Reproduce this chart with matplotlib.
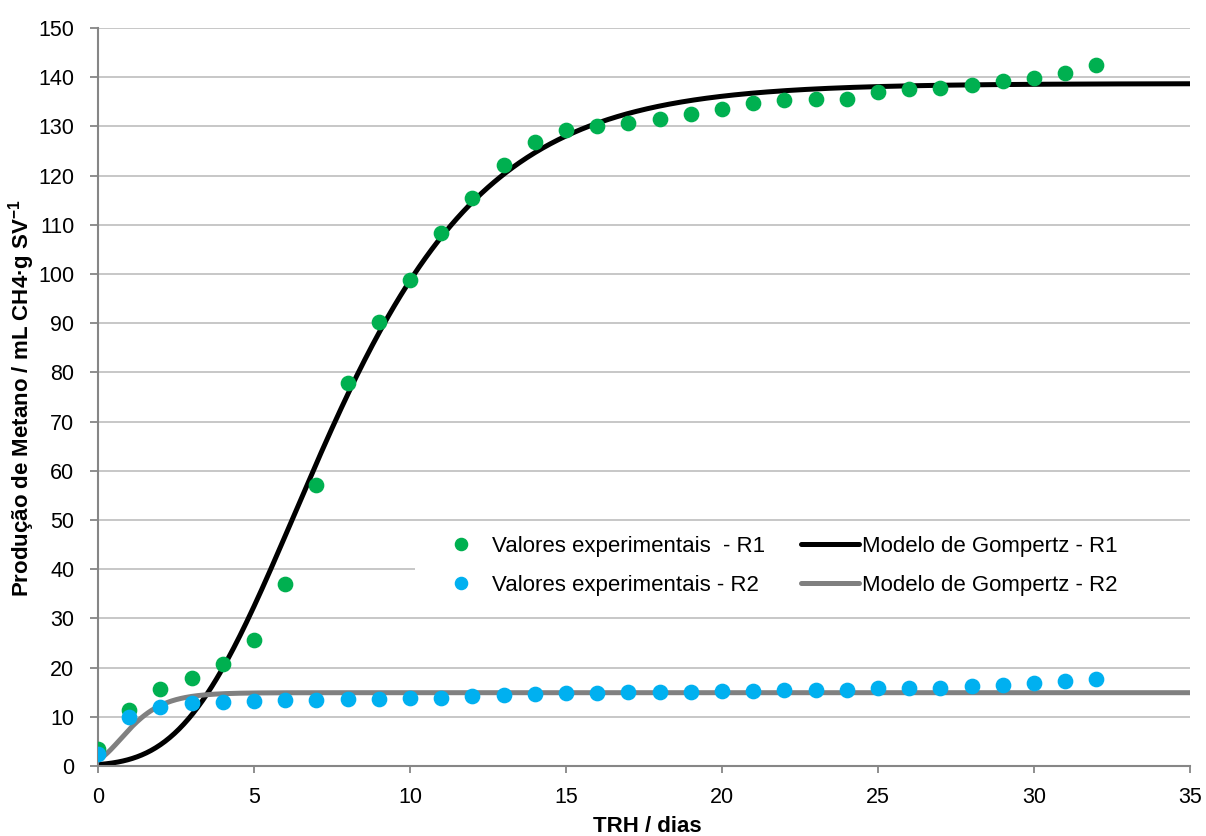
import numpy as np
import matplotlib
matplotlib.use("Agg")
import matplotlib.pyplot as plt
from matplotlib.patches import Rectangle
from matplotlib import font_manager

plt.rcParams['font.family'] = ['Liberation Sans', 'DejaVu Sans']
plt.rcParams['mathtext.fontset'] = 'custom'
plt.rcParams['mathtext.rm'] = 'Liberation Sans'
plt.rcParams['mathtext.bf'] = 'Liberation Sans:bold'

_names = {f.name for f in font_manager.fontManager.ttflist}
if 'Liberation Sans Narrow' in _names:
    tick_family, tick_size = ['Liberation Sans Narrow', 'DejaVu Sans'], 17
else:
    tick_family, tick_size = ['Liberation Sans', 'DejaVu Sans'], 15.5

# ---- data ----
dias = list(range(0, 33))
r1_exp = [3.5, 11.3, 15.7, 17.9, 20.7, 25.7, 36.9, 57.2, 77.8, 90.2, 98.8,
          108.3, 115.5, 122.1, 126.9, 129.3, 130.0, 130.6, 131.5, 132.5, 133.6,
          134.8, 135.4, 135.5, 135.5, 136.9, 137.7, 137.9, 138.5, 139.3, 139.8,
          140.8, 142.5]
r2_exp = [2.4, 10.0, 11.9, 12.9, 13.1, 13.3, 13.4, 13.5, 13.6, 13.7, 13.8,
          13.9, 14.2, 14.4, 14.6, 14.8, 14.8, 15.0, 15.0, 15.1, 15.25,
          15.25, 15.4, 15.45, 15.5, 15.8, 15.8, 15.9, 16.3, 16.5, 16.8,
          17.3, 17.7]

# Gompertz model parameters (P, Rm, lambda)
r1_P, r1_Rm, r1_lam = 138.7, 14.8, 2.84
r2_P, r2_Rm, r2_lam = 14.9, 7.1, -0.05

labels = ['Valores experimentais  - R1', 'Valores experimentais - R2',
          'Modelo de Gompertz - R1', 'Modelo de Gompertz - R2']


def gompertz(t, P, Rm, lam):
    return P * np.exp(-np.exp(Rm * np.e / P * (lam - t) + 1))


t = np.linspace(0, 35, 701)

W, H = 1206, 836
fig = plt.figure(figsize=(W / 100, H / 100), dpi=100)
ax = fig.add_axes([98 / W, 1 - 766 / H, (1190 - 98) / W, (766 - 28) / H])

green = '#00B050'
blue = '#00B0F0'
axcol = '#868686'

ax.set_axisbelow(True)
ax.yaxis.grid(True, color='#C3C3C3', linewidth=1.3, zorder=0.5)

ax.add_patch(Rectangle((0.290, 0.205), 0.710, 0.116, transform=ax.transAxes,
                       facecolor='white', edgecolor='none', zorder=1))

h1, = ax.plot(dias, r1_exp, 'o', color=green, markersize=10.3, zorder=3,
              label=labels[0])
h2, = ax.plot(dias, r2_exp, 'o', color=blue, markersize=10.3, zorder=3.1,
              label=labels[1])
h3, = ax.plot(t, gompertz(t, r1_P, r1_Rm, r1_lam), color='black', lw=3.6,
              zorder=2, label=labels[2], solid_capstyle='round')
h4, = ax.plot(t, gompertz(t, r2_P, r2_Rm, r2_lam), color='#808080', lw=3.6,
              zorder=2, label=labels[3], solid_capstyle='round')

ax.set_xlim(0, 35)
ax.set_ylim(0, 150)
ax.set_xticks(range(0, 36, 5))
ax.set_yticks(range(0, 151, 10))
for s in ['top', 'right']:
    ax.spines[s].set_visible(False)
for s in ['left', 'bottom']:
    ax.spines[s].set_color(axcol)
    ax.spines[s].set_linewidth(1.5)
ax.tick_params(axis='y', direction='out', length=6, width=1.3, color=axcol,
               pad=11)
ax.tick_params(axis='x', direction='out', length=5, width=1.3, color=axcol,
               pad=10)
for lab in ax.get_xticklabels() + ax.get_yticklabels():
    lab.set_family(tick_family)
    lab.set_fontsize(tick_size)

leg = ax.legend(handles=[h1, h2, h3, h4], ncol=2, loc='upper left',
                bbox_to_anchor=(0.3059, 0.3117), borderaxespad=0, borderpad=0,
                frameon=False, fontsize=16, handlelength=2.6,
                handletextpad=0.12, columnspacing=1.6, labelspacing=0.8,
                markerscale=0.85)

fig.text(22 / W, 1 - 398 / H,
         r'Produção de Metano / mL CH4·g SV$^{\mathbf{-1}}$',
         rotation=90, ha='center', va='center', fontsize=16,
         fontweight='bold')
fig.text(647 / W, 1 - 826 / H, 'TRH / dias', ha='center', va='center',
         fontsize=16, fontweight='bold')

fig.savefig('out.png', dpi=100)
